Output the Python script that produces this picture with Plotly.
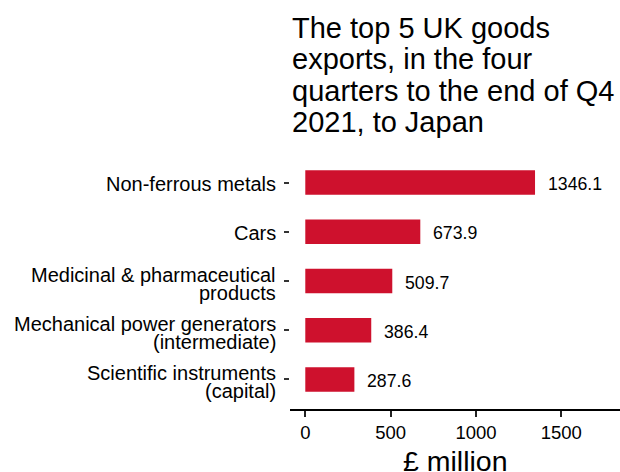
import plotly.graph_objects as go

# ---- data ----
categories = [
    "Non-ferrous metals",
    "Cars",
    "Medicinal & pharmaceutical<br>products",
    "Mechanical power generators<br>(intermediate)",
    "Scientific instruments<br>(capital)",
]
values = [1346.1, 673.9, 509.7, 386.4, 287.6]
x_ticks = [0, 500, 1000, 1500]
title_lines = [
    "The top 5 UK goods",
    "exports, in the four",
    "quarters to the end of Q4",
    "2021, to Japan",
]
x_title = "£ million"

# ---- style ----
FONT = "Liberation Sans, Arial, sans-serif"
RED = "#CE112D"
W, H = 620, 472
ML, MR, MT, MB = 290, 0, 153, 63
PH = H - MT - MB


def paper_y(px):
    return (H - MB - px) / PH


fig = go.Figure()
fig.add_trace(go.Bar(
    x=values, y=list(range(len(categories))), orientation="h",
    marker=dict(color=RED, line=dict(width=0)), width=0.5,
    hoverinfo="skip",
))

ann = []
# value labels
for i, v in enumerate(values):
    ann.append(dict(x=v, y=i, xref="x", yref="y", text=f"{v:.1f}",
                    showarrow=False, xanchor="left", yanchor="middle",
                    xshift=12, yshift=-1.5, borderpad=0,
                    font=dict(family=FONT, size=17.7, color="black")))
# category labels (line spacing as in reference)
for i, c in enumerate(categories):
    lines = c.split("<br>")
    offs = [1.5] if len(lines) == 1 else [-6.5, 11.5]
    for ln, off in zip(lines, offs):
        ann.append(dict(x=0, y=i, xref="paper", yref="y", text=ln,
                        showarrow=False, xanchor="right", yanchor="middle",
                        xshift=-13, yshift=-off, borderpad=0,
                        font=dict(family=FONT, size=20, color="black")))
# title lines
for k, t in enumerate(title_lines):
    ann.append(dict(x=0, y=paper_y(27.5 + 31.5 * k), xref="paper", yref="paper",
                    text=t, showarrow=False, xanchor="left", yanchor="middle",
                    xshift=1, borderpad=0,
                    font=dict(family=FONT, size=29, color="black")))
# x axis title
ann.append(dict(x=0.5, y=paper_y(460.5), xref="paper", yref="paper",
                text=x_title, showarrow=False, xanchor="center", yanchor="middle",
                borderpad=0, font=dict(family=FONT, size=28.5, color="black")))

fig.update_layout(
    width=W, height=H,
    margin=dict(l=ML, r=MR, t=MT, b=MB),
    paper_bgcolor="white", plot_bgcolor="white",
    showlegend=False,
    annotations=ann,
    font=dict(family=FONT, color="black"),
)
fig.update_xaxes(
    range=[-89.6, 1844], tickvals=x_ticks, ticktext=[str(t) for t in x_ticks],
    showgrid=False, zeroline=False,
    showline=True, linecolor="black", linewidth=2,
    ticks="outside", ticklen=6, tickwidth=1.5, tickcolor="#222",
    tickfont=dict(family=FONT, size=18.5, color="black"),
)
fig.update_yaxes(
    range=[len(categories) - 0.4, -0.6],
    tickvals=list(range(len(categories))), showticklabels=False,
    showgrid=False, zeroline=False, showline=False,
    ticks="outside", ticklen=5, tickwidth=1.5, tickcolor="#333",
)

fig.write_html(
    "out.html",
    config={"displayModeBar": False},
    post_script="document.body.style.margin='0';document.body.style.overflow='hidden';",
)
